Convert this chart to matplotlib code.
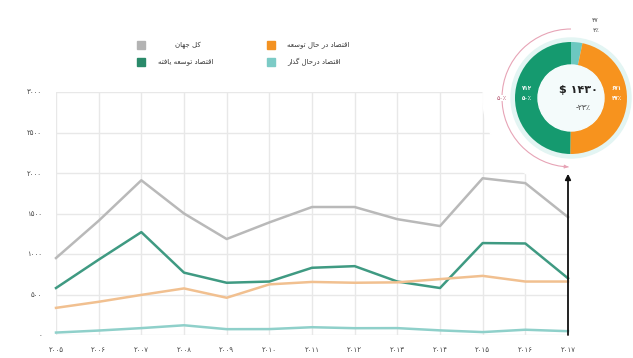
import numpy as np
import matplotlib.pyplot as plt
from matplotlib.patches import Rectangle, Arc, Circle

# data (billion USD)
years = list(range(2005, 2018))
world = [950, 1410, 1910, 1500, 1185, 1390, 1580, 1580, 1430, 1345, 1935, 1875, 1455]
developed = [580, 930, 1270, 770, 645, 660, 830, 850, 660, 580, 1135, 1130, 700]
developing = [335, 410, 495, 575, 460, 625, 655, 645, 650, 690, 730, 660, 660]
transition = [30, 55, 85, 120, 72, 73, 96, 84, 85, 57, 36, 65, 47]

y_ticks = [0, 500, 1000, 1500, 2000, 2500, 3000]

share_vals = [47, 671, 712]          # transition, developing, developed (2017)
share_pct = [3, 47, 50]
total_2017 = 1430
change_2017 = 23

names = ['کل جهان', 'اقتصاد توسعه یافته', 'اقتصاد در حال توسعه', 'اقتصاد درحال گذار']

# minimal persian shaping (matplotlib has no bidi / joining)
FORMS = {
    'ا': ('\uFE8D', '\uFE8E', None, None),
    'ب': ('\uFE8F', '\uFE90', '\uFE91', '\uFE92'),
    'ت': ('\uFE95', '\uFE96', '\uFE97', '\uFE98'),
    'ج': ('\uFE9D', '\uFE9E', '\uFE9F', '\uFEA0'),
    'ح': ('\uFEA1', '\uFEA2', '\uFEA3', '\uFEA4'),
    'د': ('\uFEA9', '\uFEAA', None, None),
    'ذ': ('\uFEAB', '\uFEAC', None, None),
    'ر': ('\uFEAD', '\uFEAE', None, None),
    'س': ('\uFEB1', '\uFEB2', '\uFEB3', '\uFEB4'),
    'ص': ('\uFEB9', '\uFEBA', '\uFEBB', '\uFEBC'),
    'ع': ('\uFEC9', '\uFECA', '\uFECB', '\uFECC'),
    'ف': ('\uFED1', '\uFED2', '\uFED3', '\uFED4'),
    'ق': ('\uFED5', '\uFED6', '\uFED7', '\uFED8'),
    'ل': ('\uFEDD', '\uFEDE', '\uFEDF', '\uFEE0'),
    'ن': ('\uFEE5', '\uFEE6', '\uFEE7', '\uFEE8'),
    'ه': ('\uFEE9', '\uFEEA', '\uFEEB', '\uFEEC'),
    'و': ('\uFEED', '\uFEEE', None, None),
    'ک': ('\uFB8E', '\uFB8F', '\uFB90', '\uFB91'),
    'گ': ('\uFB92', '\uFB93', '\uFB94', '\uFB95'),
    'ی': ('\uFBFC', '\uFBFD', '\uFBFE', '\uFBFF'),
}


def fa(txt):
    out = []
    for i, ch in enumerate(txt):
        f = FORMS.get(ch)
        if f is None:
            out.append(ch)
            continue
        prev = txt[i - 1] if i > 0 else ''
        nxt = txt[i + 1] if i + 1 < len(txt) else ''
        jp = prev in FORMS and FORMS[prev][2] is not None
        jn = nxt in FORMS and f[2] is not None
        if jp and jn:
            out.append(f[3])
        elif jp:
            out.append(f[1])
        elif jn:
            out.append(f[2])
        else:
            out.append(f[0])
    return ''.join(reversed(out))


def num(v):
    return str(v).translate(str.maketrans('0123456789', '۰۱۲۳۴۵۶۷۸۹'))


W, H = 633, 358
fig = plt.figure(figsize=(W / 100, H / 100), dpi=100)
fig.patch.set_facecolor('white')


def fx(px):
    return px / W


def fy(py):
    return 1 - py / H


# main line chart
ax = fig.add_axes([fx(56), fy(335), (568 - 56) / W, (335 - 92) / H])
ax.set_xlim(2005, 2017)
ax.set_ylim(0, 3000)
ax.grid(True, color='#e8e8e8', lw=1)
ax.set_axisbelow(True)
for s in ax.spines.values():
    s.set_visible(False)
ax.set_xticks(years)
ax.set_xticklabels([num(y) for y in years])
ax.set_yticks(y_ticks)
ax.set_yticklabels([num(v) for v in y_ticks])
ax.tick_params(length=0, labelsize=5, labelcolor='#444444')
ax.tick_params(axis='y', pad=10)
ax.tick_params(axis='x', pad=9)

ax.plot(years, world, color='#b9b9b9', lw=1.8, clip_on=False)
ax.plot(years, developed, color='#3f9a82', lw=1.8, clip_on=False)
ax.plot(years, developing, color='#f1c090', lw=1.8, clip_on=False)
ax.plot(years, transition, color='#8fd0ca', lw=1.8, clip_on=False)

# legend (drawn by hand, rtl style)
leg = [
    (names[0], '#b3b3b3', 137, 45, 175),
    (names[1], '#2a8a6a', 137, 62, 158),
    (names[2], '#f39222', 267, 45, 287),
    (names[3], '#7ccbc6', 267, 62, 287),
]
for label, col, sx, sy, tx in leg:
    fig.patches.append(Rectangle((fx(sx), fy(sy + 4)), 8 / W, 8 / H,
                                 transform=fig.transFigure, color=col))
    fig.text(fx(tx), fy(sy), fa(label), fontsize=5, color='#333333',
             ha='left', va='center')

# donut for 2017
cx, cy, R = 571, 98, 90
ax2 = fig.add_axes([fx(cx - R), fy(cy + R), 2 * R / W, 2 * R / H])
ax2.set_zorder(3)
ax2.add_patch(Circle((0, 0), 88, color='white', zorder=0))
ax2.add_patch(Circle((0, 0), 60, color='#e3f5f3', zorder=1))
ax2.pie(share_vals, radius=56, startangle=90, counterclock=False,
        colors=['#6cc8c0', '#f7931e', '#159a6f'],
        wedgeprops=dict(width=23, edgecolor='none'))
ax2.add_patch(Circle((0, 0), 33, color='#f4fbfb', zorder=2))
ax2.set_xlim(-R, R)
ax2.set_ylim(-R, R)
ax2.set_aspect('equal')
ax2.axis('off')

ax2.text(7, 8, '$ ' + num(total_2017), fontsize=8, fontweight='bold',
         ha='center', va='center', color='#222222', zorder=5)
ax2.text(12, -9, '-' + num(change_2017) + '٪', fontsize=5.5,
         ha='center', va='center', color='#444444', zorder=5)
ax2.text(-44, 10, num(share_vals[2]), fontsize=4, color='white',
         fontweight='bold', ha='center', va='center', zorder=5)
ax2.text(-44, 0, num(share_pct[2]) + '٪', fontsize=4, color='white',
         fontweight='bold', ha='center', va='center', zorder=5)
ax2.text(46, 10, num(share_vals[1]), fontsize=4, color='white',
         fontweight='bold', ha='center', va='center', zorder=5)
ax2.text(46, 0, num(share_pct[1]) + '٪', fontsize=4, color='white',
         fontweight='bold', ha='center', va='center', zorder=5)
ax2.text(24, 78, num(share_vals[0]), fontsize=4.5, color='#444444',
         ha='center', va='center', zorder=5)
ax2.text(25, 67, num(share_pct[0]) + '٪', fontsize=4.5, color='#444444',
         ha='center', va='center', zorder=5)

# bracket around the developed share
ax2.add_patch(Arc((0, 0), 138, 138, theta1=90, theta2=268,
                  color='#e7a4b6', lw=0.8, zorder=4))
ax2.annotate('', xy=(0, -69), xytext=(-8, -68.5),
             arrowprops=dict(arrowstyle='-|>', color='#e7a4b6', lw=0.8,
                             mutation_scale=5), zorder=4)
ax2.text(-69, 0, num(share_pct[2]) + '٪', fontsize=4.5, color='#b04a66',
         ha='center', va='center', zorder=5,
         bbox=dict(facecolor='white', edgecolor='none', pad=0.5))

# arrow from 2017 up to the donut
ax2.annotate('', xy=(2017, 1990), xycoords=ax.transData,
             xytext=(2017, 0), textcoords=ax.transData,
             arrowprops=dict(arrowstyle='-|>', color='#111111', lw=1.3,
                             mutation_scale=8, shrinkA=0, shrinkB=0),
             annotation_clip=False, zorder=6)

fig.savefig('out.png', dpi=100)
